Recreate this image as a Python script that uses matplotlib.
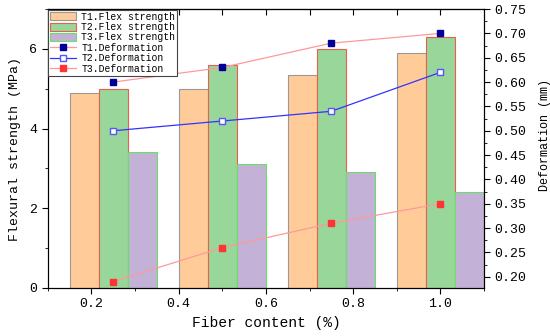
import matplotlib
matplotlib.use("Agg")
from matplotlib import pyplot as plt
from matplotlib.ticker import MultipleLocator
import numpy as np

plt.rcParams['font.family'] = ['Liberation Mono', 'DejaVu Sans Mono']

# data
fiber = [0.25, 0.5, 0.75, 1.0]
t1_flex = [4.9, 5.0, 5.35, 5.9]
t2_flex = [5.0, 5.6, 6.0, 6.3]
t3_flex = [3.4, 3.1, 2.9, 2.4]
t1_def = [0.60, 0.63, 0.68, 0.70]
t2_def = [0.50, 0.52, 0.54, 0.62]
t3_def = [0.19, 0.26, 0.31, 0.35]

x = np.array(fiber)
w = 1 / 15

fig = plt.figure(figsize=(5.5, 3.36), dpi=100)
ax = fig.add_axes([0.087, 0.143, 0.793, 0.830])

b1 = ax.bar(x - w, t1_flex, w, color="#FFCC99", edgecolor="#999999", linewidth=0.8,
            label="T1.Flex strength")
b2 = ax.bar(x, t2_flex, w, color="#99D699", edgecolor="#E8604C", linewidth=0.8,
            label="T2.Flex strength")
b3 = ax.bar(x + w, t3_flex, w, color="#C4B1D8", edgecolor="#66E066", linewidth=0.8,
            label="T3.Flex strength")

ax.set_xlim(0.1, 1.1)
ax.set_ylim(0, 7)
ax.xaxis.set_minor_locator(MultipleLocator(0.1))
ax.yaxis.set_major_locator(MultipleLocator(2))
ax.yaxis.set_minor_locator(MultipleLocator(1))
ax.set_xticks([0.2, 0.4, 0.6, 0.8, 1.0])
ax.set_xticklabels(["0.2", "0.4", "0.6", "0.8", "1.0"])
ax.tick_params(axis="both", which="major", direction="out", length=4, labelsize=9.5)
ax.tick_params(axis="both", which="minor", direction="out", length=2)
ax.set_xlabel("Fiber content (%)", fontsize=10.5)
ax.set_ylabel("Flexural strength (MPa)", fontsize=9.5, labelpad=6)

# top ticks pointing in
top = ax.secondary_xaxis("top")
top.set_xticks(np.arange(0.2, 1.01, 0.1))
top.tick_params(direction="in", length=4, labeltop=False)

ax2 = ax.twinx()
l1, = ax2.plot(x, t1_def, color="#FF9999", linewidth=0.9, marker="s", markersize=5,
               markerfacecolor="#000099", markeredgecolor="#000099", label="T1.Deformation")
l2, = ax2.plot(x, t2_def, color="#3333FF", linewidth=0.9, marker="s", markersize=5,
               markerfacecolor="white", markeredgecolor="#5555FF", label="T2.Deformation")
l3, = ax2.plot(x, t3_def, color="#FF9999", linewidth=0.9, marker="s", markersize=5,
               markerfacecolor="#FF3333", markeredgecolor="#FF3333", label="T3.Deformation")
ax2.set_ylim(0.177, 0.75)
ax2.yaxis.set_minor_locator(MultipleLocator(0.025))
ticks = np.arange(0.20, 0.751, 0.05)
ax2.set_yticks(ticks)
ax2.set_yticklabels(["%.2f" % v for v in ticks])
ax2.tick_params(axis="y", which="major", direction="out", length=4, labelsize=9.5)
ax2.tick_params(axis="y", which="minor", direction="out", length=2)
ax2.set_ylabel("Deformation (mm)", fontsize=8.5)
ax2.yaxis.set_label_coords(1.125, 0.55)

handles = [b1, b2, b3, l1, l2, l3]
leg = ax2.legend(handles, [h.get_label() for h in handles],
                 loc="upper left", fontsize=7, frameon=True, fancybox=False,
                 edgecolor="#444444", framealpha=1, borderpad=0.2, labelspacing=0.05,
                 handlelength=2.6, handleheight=0.9, handletextpad=0.6, borderaxespad=0.05)
leg.get_frame().set_linewidth(0.8)

fig.savefig("out.png", dpi=100)
